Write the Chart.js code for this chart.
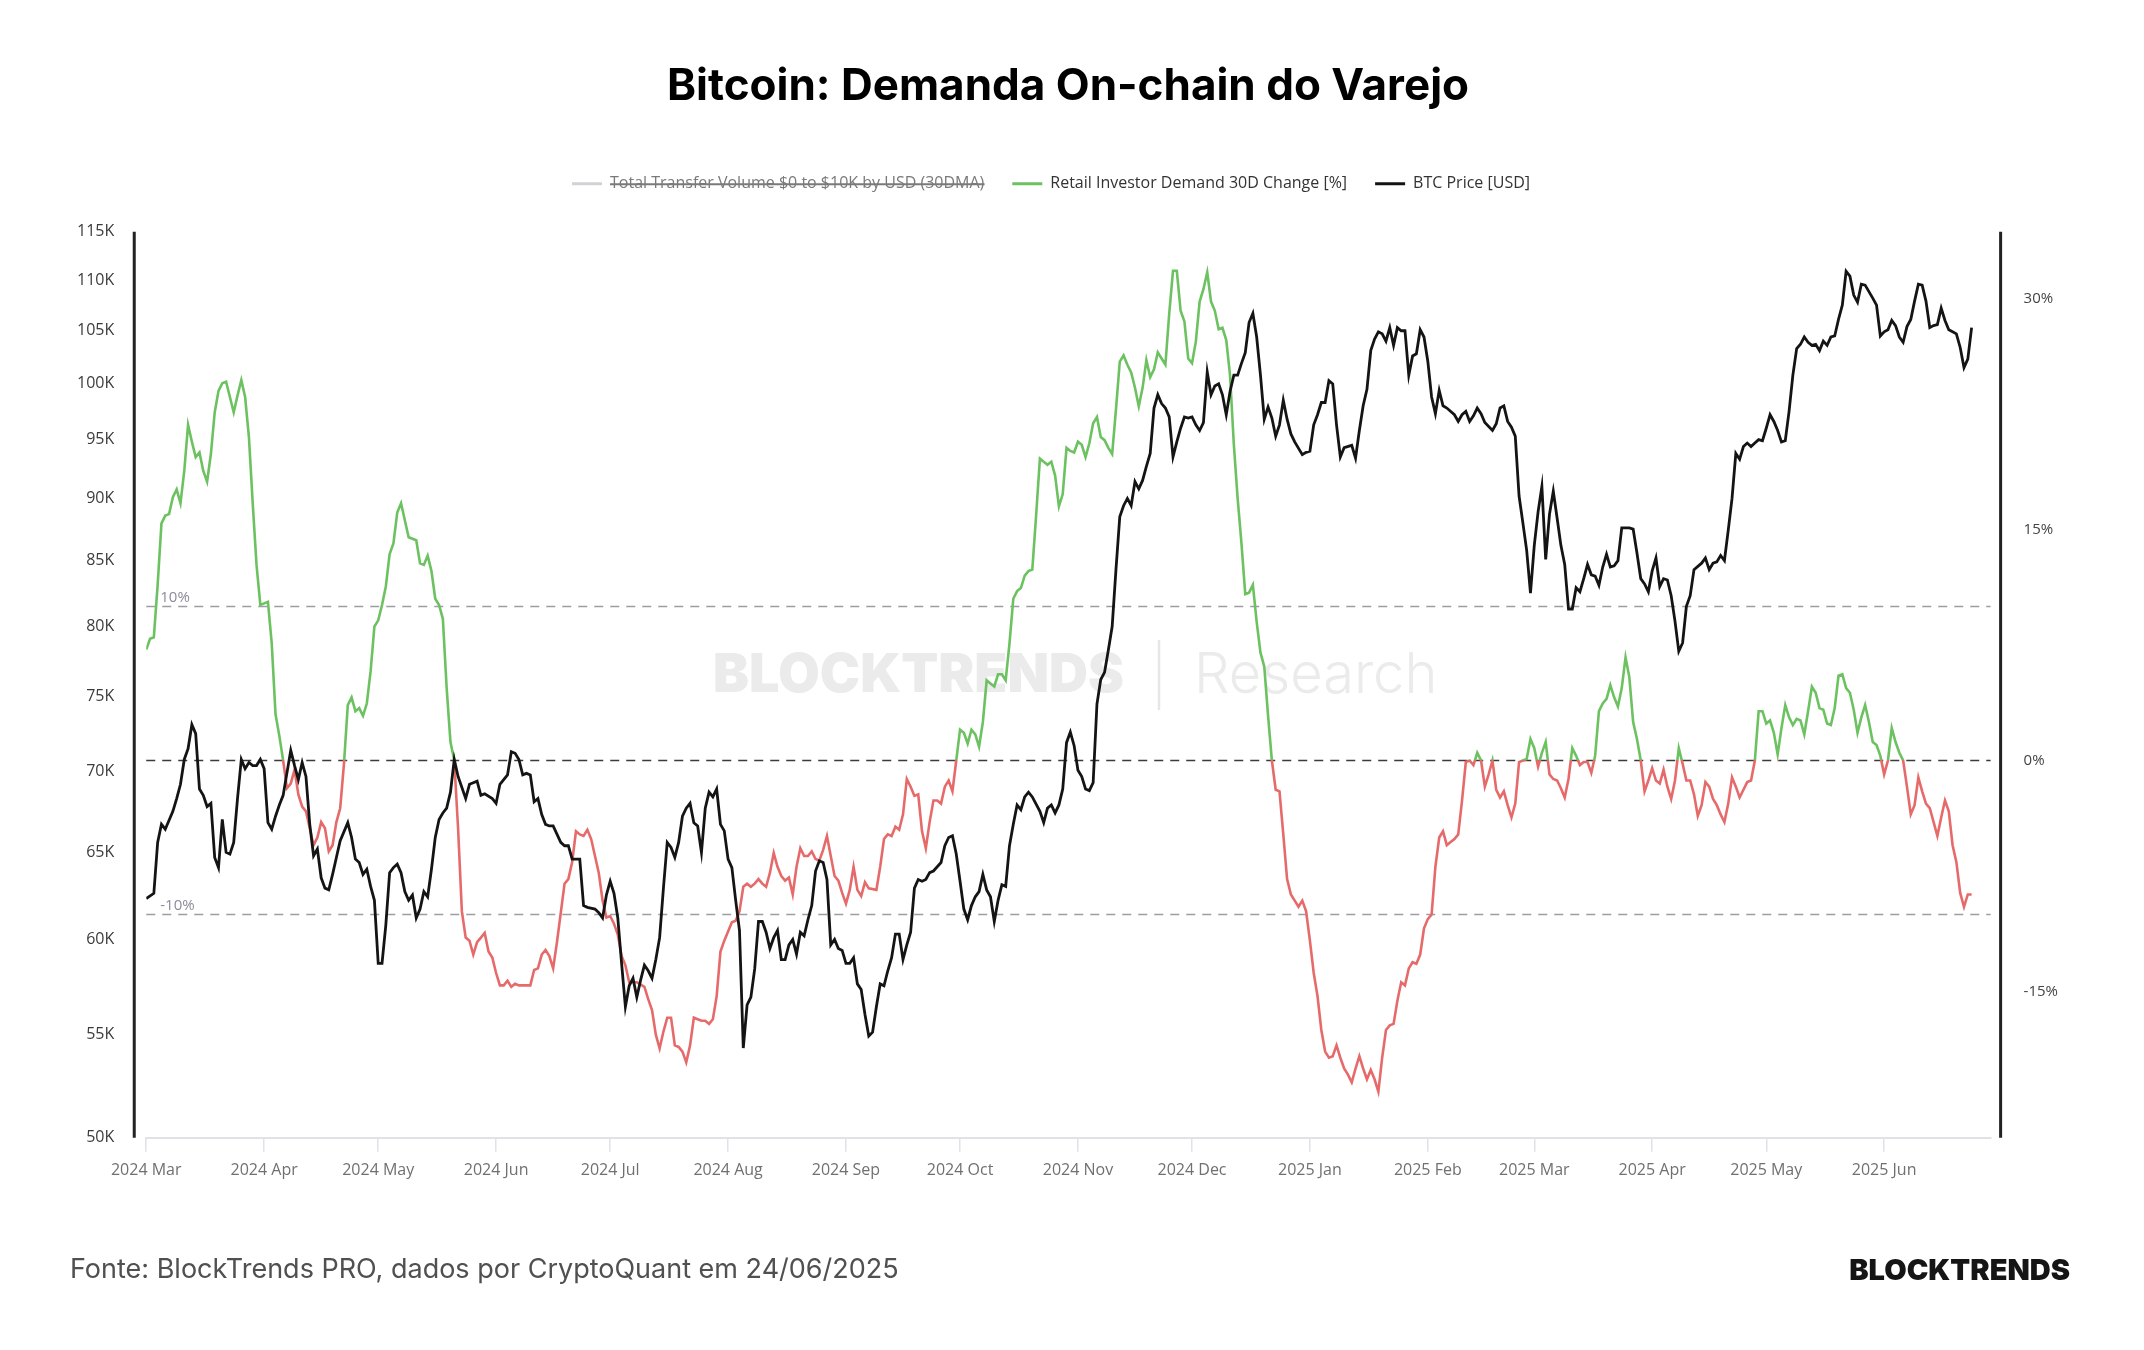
<!DOCTYPE html>
<html>
<head>
<meta charset="utf-8">
<script src="https://cdn.jsdelivr.net/npm/chart.js@4.4.1/dist/chart.umd.min.js"></script>
<style>
  html, body { margin: 0; padding: 0; background: #fff; }
  #chart { display: block; }
</style>
</head>
<body>
<canvas id="chart" width="2144" height="1350"></canvas>
<script>
// days counted from 2024-03-01
const startDate = Date.UTC(2024, 2, 1);

const monthLabels = ['2024 Mar', '2024 Apr', '2024 May', '2024 Jun', '2024 Jul', '2024 Aug', '2024 Sep', '2024 Oct',
  '2024 Nov', '2024 Dec', '2025 Jan', '2025 Feb', '2025 Mar', '2025 Apr', '2025 May', '2025 Jun'];

const priceTicks = [50, 55, 60, 65, 70, 75, 80, 85, 90, 95, 100, 105, 110, 115];
const pctTicks = [-15, 0, 15, 30];

// BTC price, thousand USD
const priceDay = [0,2,3,4,5,7,8,9,10,11,12,13,14,15,16,17,18,19,20,21,22,23,24,25,26,27,28,29,30,31,32,33,34,35,36,38,39,40,41,42,43,44,45,46,47,48,49,50,51,53,54,55,56,57,58,59,60,61,62,63,64,65,66,67,68,69,70,71,72,73,74,75,76,77,78,79,80,81,82,84,85,86,87,88,89,91,92,93,95,96,97,98,99,100,101,102,103,104,105,106,107,109,110,111,112,114,115,116,118,119,120,121,122,123,124,125,126,127,128,129,130,131,132,133,134,135,136,137,138,139,140,141,142,143,144,145,146,147,148,149,150,151,152,153,154,155,156,157,158,159,160,161,162,163,164,165,166,167,168,169,170,171,172,173,174,175,176,177,178,179,180,181,182,183,184,185,186,187,188,189,190,191,192,193,194,195,196,197,198,199,200,201,202,203,204,205,206,207,209,210,211,212,213,214,215,216,217,218,219,220,221,222,223,224,225,226,227,228,229,230,231,232,233,235,236,237,238,239,240,241,242,243,244,245,246,247,248,249,250,251,252,253,254,255,256,257,258,259,260,261,262,263,264,265,266,267,268,269,270,271,272,273,274,275,276,277,278,279,280,281,282,283,284,285,286,287,288,289,290,291,292,293,294,295,296,297,298,299,300,301,302,304,305,306,307,308,309,310,311,312,313,314,315,317,318,319,320,321,322,323,324,325,326,327,328,329,330,331,332,333,334,335,336,337,338,339,340,341,342,344,345,346,347,348,349,350,351,352,354,355,356,357,358,359,360,361,362,363,364,365,366,367,368,369,370,371,372,373,374,375,376,377,378,379,380,381,382,383,384,385,386,387,388,389,390,391,392,393,394,395,396,397,398,399,400,401,402,403,404,405,406,407,409,410,411,412,413,414,415,416,417,418,419,420,421,422,423,424,425,426,427,428,429,430,431,432,433,434,435,436,437,438,439,440,441,442,443,444,445,446,447,448,449,450,451,452,454,455,456,457,458,459,460,461,462,463,464,465,466,467,468,469,470,471,472,473,474,475,476,477,478,479,480];
const priceK = [62.3,62.6,65.6,66.7,66.4,67.5,68.3,69.2,70.8,71.5,73.1,72.5,68.9,68.5,67.8,68.0,64.7,64.1,67.0,65.0,64.9,65.6,68.3,70.8,70.2,70.6,70.4,70.4,70.8,70.2,66.8,66.4,67.2,67.9,68.5,71.4,70.4,69.5,70.6,69.7,66.7,64.8,65.2,63.5,62.9,62.8,63.7,64.7,65.7,66.8,65.9,64.6,64.4,63.7,64.0,63.0,62.2,58.7,58.7,60.8,63.8,64.1,64.3,63.8,62.7,62.2,62.5,61.2,61.7,62.7,62.4,64.0,65.9,67.0,67.4,67.7,68.7,70.8,69.7,68.3,69.2,69.3,69.4,68.5,68.6,68.3,68.0,69.2,69.8,71.3,71.2,70.8,69.8,69.9,69.8,68.1,68.3,67.3,66.7,66.6,66.6,65.6,65.4,65.4,64.6,64.6,61.9,61.8,61.7,61.5,61.2,62.5,63.3,62.6,61.2,58.7,56.4,57.5,57.9,56.9,57.8,58.6,58.3,57.9,58.9,60.1,62.9,65.6,65.3,64.7,65.6,67.2,67.7,68.0,66.8,66.6,65.0,67.7,68.7,68.4,68.9,66.7,66.3,64.6,64.1,62.2,60.5,54.3,56.5,56.9,58.4,61.0,61.0,60.4,59.5,60.1,60.5,58.9,58.9,59.7,60.0,59.2,60.4,60.2,61.1,61.9,63.9,64.5,64.4,63.4,59.7,60.0,59.5,59.4,58.7,58.7,59.0,57.6,57.3,56.0,54.9,55.1,56.4,57.6,57.5,58.3,59.0,60.3,60.3,58.9,59.7,60.4,62.9,63.4,63.3,63.4,63.8,63.9,64.4,65.4,65.9,66.0,64.9,63.3,61.7,61.1,61.9,62.4,62.7,63.7,62.8,62.4,61.0,62.2,63.1,63.0,65.4,66.7,67.9,67.6,68.4,68.7,68.4,67.5,66.8,67.7,67.9,67.4,67.9,68.9,71.9,72.6,71.7,70.1,69.7,68.9,68.8,69.3,74.5,76.2,76.7,78.3,80.0,84.3,88.5,89.4,90.0,89.4,91.4,90.8,91.5,92.7,93.8,97.8,99.0,98.2,97.8,97.0,93.5,94.8,96.0,97.0,96.9,97.0,96.3,95.8,96.5,101.1,99.0,99.8,100.0,99.0,97.2,99.3,100.8,100.8,101.9,102.9,105.8,106.7,104.4,100.8,96.8,97.9,96.9,95.3,96.3,98.5,96.8,95.5,94.8,93.7,93.9,94.0,96.3,97.2,98.3,98.3,100.3,100.0,96.3,93.5,94.3,94.5,93.4,95.8,98.0,99.5,103.1,104.2,104.9,104.7,104.0,105.3,103.6,105.3,105.0,105.0,100.8,102.6,102.8,105.1,104.4,102.1,98.8,97.3,99.4,98.0,97.8,97.2,96.6,97.2,97.5,96.6,97.1,97.8,97.3,96.5,95.8,96.4,97.8,98.0,96.6,96.1,95.3,90.2,88.0,85.8,82.5,86.2,88.9,91.0,85.1,88.7,90.6,88.4,86.2,84.7,81.3,81.3,82.9,82.6,83.6,84.7,83.9,83.8,83.1,84.5,85.5,84.5,84.6,85.0,87.6,87.6,87.6,87.5,85.6,83.6,83.2,82.6,84.2,85.2,83.0,83.6,83.5,82.3,80.4,78.2,78.8,81.5,82.3,84.3,84.8,85.2,84.3,84.8,84.9,85.4,85.0,87.4,90.0,93.8,93.3,94.4,94.7,94.4,94.7,95.0,94.9,96.0,97.2,96.6,95.8,94.8,94.9,97.5,100.8,103.3,103.7,104.4,103.9,103.6,103.7,103.1,104.0,103.6,104.4,104.5,106.1,107.5,110.9,110.4,108.5,107.8,109.6,109.5,108.2,107.5,104.5,104.9,105.1,106.0,105.5,104.4,103.9,105.4,106.1,107.9,109.6,109.5,107.9,105.3,105.5,105.6,107.2,106.0,105.1,104.9,104.7,103.4,101.5,102.3,105.3];

// Retail investor demand, 30D change in %
const demandDay = [0,1,2,3,4,5,6,7,8,9,10,11,12,13,14,15,16,17,18,19,20,21,22,23,24,25,26,27,28,29,30,31,32,33,34,35,36,37,38,39,40,41,42,43,44,45,46,47,48,49,50,51,52,53,54,55,56,57,58,59,60,61,62,63,64,65,66,67,68,69,71,72,73,74,75,76,77,78,79,80,81,82,83,84,85,86,87,88,89,90,91,92,93,94,95,96,97,98,100,101,102,103,104,105,106,107,108,110,111,112,113,114,115,116,117,119,120,121,122,123,124,125,126,127,128,129,131,132,133,134,135,136,137,138,139,140,141,142,143,144,145,146,147,148,149,150,151,152,153,154,155,156,157,158,159,160,161,162,163,164,165,166,167,168,169,170,171,172,173,174,175,176,177,178,179,180,181,182,183,184,185,186,187,188,189,190,192,193,194,195,196,197,198,199,200,201,202,203,204,205,206,207,208,209,210,211,212,213,214,215,216,217,218,219,220,221,222,223,224,225,226,227,228,229,230,231,232,233,234,235,236,237,238,239,240,241,242,243,244,245,246,247,248,249,250,251,252,253,254,255,256,257,258,259,260,261,262,263,264,265,266,267,268,269,270,271,272,273,274,275,276,277,278,279,280,281,282,283,284,285,286,287,288,289,290,291,292,293,294,295,296,297,298,299,300,301,302,303,304,305,306,307,308,309,310,311,312,313,314,315,316,317,318,319,320,321,322,323,324,325,326,327,328,329,330,331,332,333,334,335,336,337,338,339,340,341,342,343,344,345,346,347,348,349,350,351,352,353,354,355,356,357,358,359,360,361,362,363,364,365,366,367,368,369,370,371,372,373,374,375,376,377,378,379,380,381,382,383,384,385,386,387,388,389,390,391,392,393,394,395,396,397,398,399,400,401,402,403,404,405,406,407,408,409,410,411,412,413,414,415,416,417,418,419,420,421,422,423,424,425,426,427,428,429,430,431,432,433,434,435,436,437,438,439,440,441,442,443,444,445,446,447,448,449,450,451,452,453,454,455,456,457,458,459,460,461,462,463,464,465,466,467,468,469,471,472,473,474,475,476,477,478,479,480];
const demandPct = [7.2,7.9,8.0,11.4,15.4,15.9,16.0,17.1,17.6,16.7,18.8,21.8,20.7,19.7,20.0,18.8,18.1,19.9,22.6,24.0,24.5,24.6,23.6,22.6,23.7,24.7,23.6,21.0,16.7,12.7,10.1,10.2,10.3,7.6,3.0,1.6,0.0,-1.8,-1.5,-0.6,-2.2,-3.0,-3.3,-4.4,-5.5,-5.0,-4.0,-4.4,-5.9,-5.5,-4.0,-3.1,-0.2,3.6,4.1,3.2,3.4,2.9,3.7,5.8,8.7,9.1,10.1,11.3,13.4,14.1,16.1,16.7,15.6,14.5,14.3,12.8,12.7,13.3,12.3,10.5,10.1,9.2,4.7,1.2,0.0,-4.4,-9.8,-11.5,-11.7,-12.6,-11.8,-11.5,-11.2,-12.4,-12.8,-13.8,-14.6,-14.6,-14.3,-14.7,-14.5,-14.6,-14.6,-14.6,-13.6,-13.5,-12.6,-12.3,-12.7,-13.5,-11.8,-8.0,-7.7,-6.6,-4.6,-4.8,-4.9,-4.5,-5.1,-7.3,-9.1,-10.2,-10.1,-10.6,-11.3,-12.7,-13.3,-14.4,-14.4,-14.4,-14.7,-15.5,-16.2,-17.8,-18.7,-17.6,-16.7,-16.7,-18.5,-18.6,-18.9,-19.6,-18.5,-16.7,-16.8,-16.9,-16.9,-17.1,-16.8,-15.3,-12.4,-11.7,-11.1,-10.5,-10.4,-9.8,-8.2,-8.0,-8.2,-8.0,-7.7,-8.0,-8.2,-7.3,-6.0,-6.9,-7.5,-7.8,-7.6,-8.7,-6.9,-5.7,-6.2,-6.2,-5.9,-6.4,-6.5,-5.8,-4.9,-6.2,-7.5,-7.8,-8.6,-9.3,-8.4,-6.9,-8.4,-8.8,-7.9,-8.3,-8.4,-6.9,-5.1,-4.8,-4.9,-4.3,-4.5,-3.5,-1.2,-1.7,-2.3,-2.2,-4.6,-5.7,-4.0,-2.6,-2.6,-2.8,-1.7,-1.3,-2.0,0.0,2.0,1.8,1.1,2.0,1.7,0.9,2.5,5.2,5.0,4.8,5.6,5.6,5.2,7.6,10.5,11.0,11.2,12.0,12.3,12.4,15.9,19.6,19.4,19.2,19.4,18.5,16.5,17.3,20.3,20.1,20.0,20.7,20.5,19.7,20.6,21.9,22.3,21.0,20.8,20.3,19.9,22.8,25.9,26.3,25.7,25.2,24.2,23.0,24.2,26.0,24.9,25.4,26.5,26.1,25.7,29.0,31.8,31.8,29.2,28.5,26.1,25.8,27.2,29.8,30.6,31.7,29.8,29.2,28.0,28.1,27.3,25.0,20.5,17.0,14.1,10.8,10.9,11.4,9.0,7.0,6.1,2.9,0.0,-1.9,-2.0,-4.8,-7.7,-8.7,-9.1,-9.5,-9.1,-9.8,-11.7,-13.8,-15.3,-17.5,-18.9,-19.3,-19.2,-18.5,-19.3,-20.0,-20.4,-20.9,-20.0,-19.2,-20.0,-20.7,-20.1,-20.7,-21.5,-19.3,-17.5,-17.2,-17.1,-15.6,-14.4,-14.6,-13.5,-13.1,-13.2,-12.6,-10.9,-10.3,-10.0,-6.9,-5.0,-4.6,-5.5,-5.3,-5.1,-4.8,-2.6,-0.1,0.0,-0.3,0.5,0.0,-1.7,-0.9,0.0,-1.9,-2.4,-2.0,-2.9,-3.7,-2.8,-0.1,0.0,0.1,1.4,0.8,-0.4,0.5,1.2,-0.9,-1.2,-1.3,-1.8,-2.4,-1.2,0.8,0.3,-0.3,-0.1,-0.1,-0.8,0.3,3.2,3.7,4.0,4.9,4.1,3.5,4.7,6.7,5.4,2.5,1.4,0.0,-2.0,-1.3,-0.5,-1.3,-1.5,-0.6,-1.7,-2.5,-1.3,0.8,-0.2,-1.3,-1.3,-2.2,-3.6,-2.9,-1.4,-1.7,-2.5,-2.9,-3.5,-4.0,-2.8,-1.1,-1.7,-2.4,-1.9,-1.4,-1.3,0.0,3.2,3.2,2.4,2.6,1.8,0.4,2.1,3.6,2.8,2.3,2.7,2.6,1.7,3.2,4.8,4.4,3.4,3.3,2.4,2.3,3.4,5.5,5.6,4.7,4.4,3.3,1.8,2.8,3.6,2.5,1.2,1.0,0.3,-0.9,0.0,2.1,1.2,0.5,0.0,-1.7,-3.5,-2.9,-1.1,-2.0,-2.8,-3.1,-4.9,-3.7,-2.6,-3.3,-5.5,-6.6,-8.6,-9.5,-8.7,-8.7];

const refLevels = [10, 0, -10];

const GREEN = '#6cc160';
const RED = '#e66a6a';
const BLACK = '#141414';
const GREY_SERIES = '#d2d2d6';

const monthDays = monthLabels.map(l => {
  const [y, m] = l.split(' ');
  const mi = ['Jan','Feb','Mar','Apr','May','Jun','Jul','Aug','Sep','Oct','Nov','Dec'].indexOf(m);
  return Math.round((Date.UTC(+y, mi, 1) - startDate) / 864e5);
});

function demandColor(context) {
  const chart = context.chart;
  const area = chart.chartArea;
  const scale = chart.scales.yPct;
  if (!area || !scale) return GREEN;
  const y0 = scale.getPixelForValue(0);
  let t = (y0 - area.top) / (area.bottom - area.top);
  t = Math.min(1, Math.max(0, t));
  const g = chart.ctx.createLinearGradient(0, area.top, 0, area.bottom);
  g.addColorStop(0, GREEN);
  g.addColorStop(t, GREEN);
  g.addColorStop(t, RED);
  g.addColorStop(1, RED);
  return g;
}

// extra room under the legend, and nudge it a bit left
const legendGap = {
  id: 'legendGap',
  beforeInit(chart) {
    const fit = chart.legend.fit;
    chart.legend.fit = function () {
      fit.bind(chart.legend)();
      this.height += 30;
    };
  },
  afterLayout(chart) {
    chart.legend.left -= 17;
    chart.legend.right -= 17;
  }
};

const decorations = {
  id: 'decorations',
  beforeDatasetsDraw(chart) {
    const {ctx, chartArea: a} = chart;
    const yPct = chart.scales.yPct;
    ctx.save();
    // watermark
    ctx.fillStyle = '#ebebeb';
    ctx.textBaseline = 'middle';
    ctx.textAlign = 'right';
    ctx.font = '900 54px Inter';
    ctx.fillText('BLOCKTRENDS', 1124, 676);
    ctx.textAlign = 'left';
    ctx.font = '300 56px Inter';
    ctx.fillText('Research', 1194, 676);
    ctx.strokeStyle = '#e6e6e6';
    ctx.lineWidth = 2.5;
    ctx.beginPath();
    ctx.moveTo(1159, 640);
    ctx.lineTo(1159, 710);
    ctx.stroke();

    // reference lines
    ctx.lineWidth = 1.6;
    ctx.setLineDash([9, 7]);
    refLevels.forEach(v => {
      const y = yPct.getPixelForValue(v);
      ctx.strokeStyle = v === 0 ? '#3a3a3a' : '#9d9da6';
      ctx.beginPath();
      ctx.moveTo(a.left, y);
      ctx.lineTo(a.right, y);
      ctx.stroke();
      if (v !== 0) {
        ctx.fillStyle = '#8c8c98';
        ctx.font = '15px "Open Sans"';
        ctx.textAlign = 'left';
        ctx.textBaseline = 'bottom';
        ctx.fillText(v + '%', a.left + 14, y - 1);
      }
    });
    ctx.restore();
  },
  afterDraw(chart) {
    const {ctx, chartArea: a} = chart;
    ctx.save();
    // dark vertical axis lines
    ctx.strokeStyle = '#222';
    ctx.lineWidth = 3;
    ctx.beginPath();
    ctx.moveTo(a.left - 12, a.top);
    ctx.lineTo(a.left - 12, a.bottom);
    ctx.moveTo(a.right + 10, a.top);
    ctx.lineTo(a.right + 10, a.bottom);
    ctx.stroke();

    // footer
    ctx.textBaseline = 'middle';
    ctx.textAlign = 'left';
    ctx.fillStyle = '#505050';
    ctx.font = '27px Inter';
    ctx.fillText('Fonte: BlockTrends PRO, dados por CryptoQuant em 24/06/2025', 70, 1270);
    ctx.textAlign = 'right';
    ctx.fillStyle = '#151515';
    ctx.font = '900 29px Inter';
    ctx.fillText('BLOCKTRENDS', 2070, 1271);
    ctx.restore();
  }
};

const chart = new Chart(document.getElementById('chart'), {
  type: 'line',
  data: {
    datasets: [
      {
        label: 'Total Transfer Volume $0 to $10K by USD (30DMA)',
        data: [],
        yAxisID: 'yPct',
        borderColor: GREY_SERIES,
        borderWidth: 3,
        hidden: true,
        order: 2
      },
      {
        label: 'Retail Investor Demand 30D Change [%]',
        data: demandDay.map((d, i) => ({x: d, y: demandPct[i]})),
        yAxisID: 'yPct',
        borderColor: demandColor,
        borderWidth: 2.6,
        pointRadius: 0,
        tension: 0,
        order: 1
      },
      {
        label: 'BTC Price [USD]',
        data: priceDay.map((d, i) => ({x: d, y: priceK[i]})),
        yAxisID: 'yPrice',
        borderColor: BLACK,
        borderWidth: 2.8,
        pointRadius: 0,
        tension: 0,
        order: 0
      }
    ]
  },
  options: {
    responsive: false,
    animation: false,
    layout: {padding: {top: 0, left: 53, right: 61, bottom: 161}},
    plugins: {
      title: {
        display: true,
        text: 'Bitcoin: Demanda On-chain do Varejo',
        color: '#000',
        font: {family: 'Inter', size: 44, weight: '700', lineHeight: 1.2},
        padding: {top: 60, bottom: 35}
      },
      legend: {
        display: true,
        position: 'top',
        labels: {
          usePointStyle: true,
          pointStyle: 'line',
          pointStyleWidth: 30,
          padding: 28,
          color: '#333',
          font: {family: 'Open Sans', size: 16},
          sort: (a, b) => a.datasetIndex - b.datasetIndex,
          generateLabels(c) {
            const items = Chart.defaults.plugins.legend.labels.generateLabels(c);
            const colors = [GREY_SERIES, GREEN, BLACK];
            items.forEach(it => {
              it.strokeStyle = colors[it.datasetIndex];
              it.lineWidth = 3;
              it.fontColor = it.hidden ? '#7a7a7a' : '#333';
            });
            return items;
          }
        }
      },
      tooltip: {enabled: false}
    },
    scales: {
      x: {
        type: 'linear',
        min: 0,
        max: 485,
        afterBuildTicks(scale) {
          scale.ticks = monthDays.map(v => ({value: v}));
        },
        ticks: {
          autoSkip: false,
          maxRotation: 0,
          padding: 9,
          color: '#707070',
          font: {family: 'Open Sans', size: 16},
          callback(value) {
            const i = monthDays.indexOf(value);
            return i >= 0 ? monthLabels[i] : '';
          }
        },
        grid: {drawOnChartArea: false, tickLength: 14, color: '#e2e2e6', lineWidth: 1.5},
        border: {display: true, color: '#e2e2e6', width: 2}
      },
      yPrice: {
        type: 'logarithmic',
        position: 'left',
        min: 50,
        max: 115,
        afterBuildTicks(scale) {
          scale.ticks = priceTicks.map(v => ({value: v}));
        },
        ticks: {
          padding: 24,
          color: '#3c3c3c',
          font: {family: 'Open Sans', size: 16},
          callback: v => v + 'K'
        },
        grid: {display: false},
        border: {display: false}
      },
      yPct: {
        type: 'linear',
        position: 'right',
        min: -24.5,
        max: 34.33,
        afterBuildTicks(scale) {
          scale.ticks = pctTicks.map(v => ({value: v}));
        },
        ticks: {
          padding: 25,
          color: '#444',
          font: {family: 'Open Sans', size: 15},
          callback: v => v + '%'
        },
        grid: {display: false},
        border: {display: false}
      }
    }
  },
  plugins: [legendGap, decorations]
});
</script>
</body>
</html>
